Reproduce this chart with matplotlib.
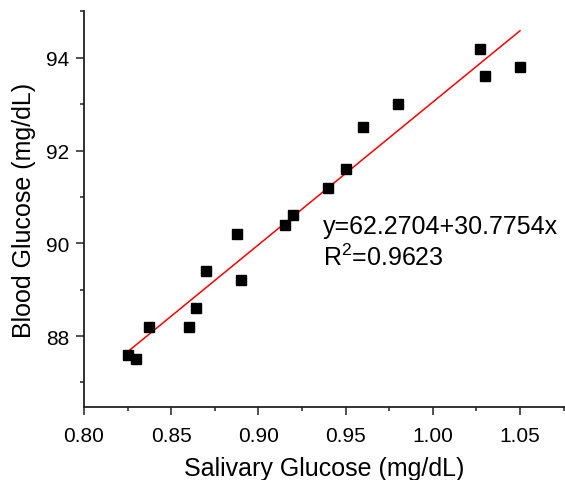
import numpy as np
import matplotlib
matplotlib.use('Agg')
import matplotlib.pyplot as plt
from matplotlib.ticker import MultipleLocator

plt.rcParams['font.family'] = ['Liberation Sans', 'DejaVu Sans']
plt.rcParams['mathtext.fontset'] = 'custom'
plt.rcParams['mathtext.rm'] = 'Liberation Sans'

# Donnees
salivary = [0.825, 0.830, 0.837, 0.860, 0.864, 0.870, 0.888, 0.890, 0.915,
            0.920, 0.940, 0.950, 0.960, 0.980, 1.027, 1.030, 1.050]
blood = [87.6, 87.5, 88.2, 88.2, 88.6, 89.4, 90.2, 89.2, 90.4,
         90.6, 91.2, 91.6, 92.5, 93.0, 94.2, 93.6, 93.8]

intercept = 62.2704
slope = 30.7754
r2 = 0.9623

fig = plt.figure(figsize=(5.65, 4.81), dpi=100)
ax = fig.add_axes([0.1487, 0.1518, 0.8513, 0.8232])

ax.plot(salivary, blood, 's', color='black', markersize=7.2, zorder=3)

# Droite de regression
xfit = np.array([min(salivary), max(salivary)])
ax.plot(xfit, intercept + slope * xfit, color='red', linewidth=1.1, zorder=2)

ax.set_xlim(0.80, 1.0758)
ax.set_ylim(86.47, 95.01)

ax.xaxis.set_major_locator(MultipleLocator(0.05))
ax.xaxis.set_minor_locator(MultipleLocator(0.025))
ax.yaxis.set_major_locator(MultipleLocator(2))
ax.yaxis.set_minor_locator(MultipleLocator(1))
ax.xaxis.set_major_formatter(plt.FormatStrFormatter('%.2f'))

for side in ['top', 'right']:
    ax.spines[side].set_visible(False)
for side in ['left', 'bottom']:
    ax.spines[side].set_linewidth(1.3)
    ax.spines[side].set_color('#222222')

ax.tick_params(which='major', direction='out', length=5.8, width=1.1,
               labelsize=15, color='#222222')
ax.tick_params(which='minor', direction='out', length=3.2, width=1.1,
               color='#222222')
ax.tick_params(axis='x', which='major', pad=8)
ax.tick_params(axis='y', which='major', pad=5)

ax.set_xlabel('Salivary Glucose (mg/dL)', fontsize=18, labelpad=8)
ax.set_ylabel('Blood Glucose (mg/dL)', fontsize=18, labelpad=7)

ax.text(0.937, 90.37, f'y={intercept}+{slope}x', fontsize=18, va='center')
ax.text(0.937, 89.70, r'R$^{\mathregular{2}}$=' + f'{r2}', fontsize=18,
        va='center')

fig.savefig('out.png', dpi=100)
